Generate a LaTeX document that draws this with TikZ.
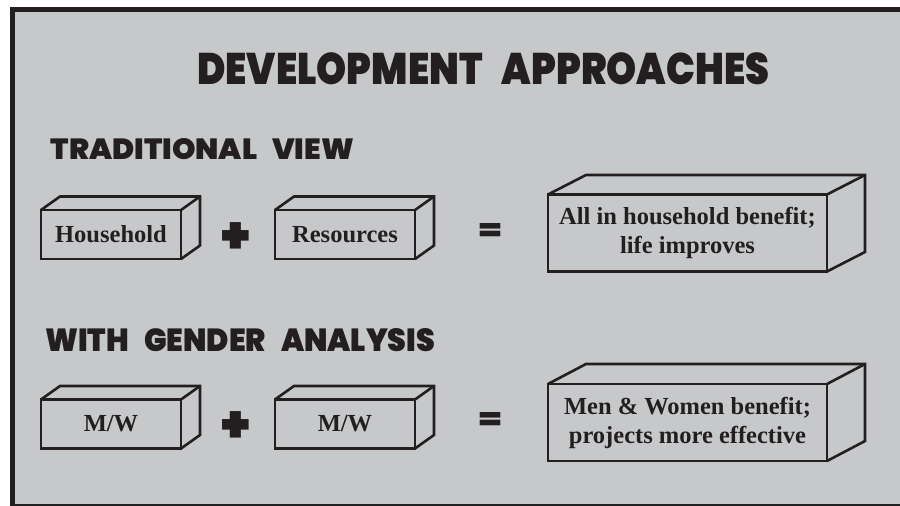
\documentclass[tikz,border=0pt]{standalone}
\usepackage{fontspec}
\usepackage{graphicx}
\setmainfont{Liberation Serif}
\IfFontExistsTF{Poppins Black}{\newfontfamily\heavy{Poppins Black}}{%
  \IfFontExistsTF{Poppins ExtraBold}{\newfontfamily\heavy{Poppins ExtraBold}}{%
    \newfontfamily\heavyx{Poppins}\def\heavy{\heavyx\bfseries}}}
\usetikzlibrary{calc}
\definecolor{panel}{HTML}{C7C8CA}
\definecolor{ink}{HTML}{231F20}
\newcommand\cuboid[3]{%
  \draw[boxline] (#1.north west) -- ++(#2,#3) -- ($(#1.north east)+(#2,#3)$)
     -- ($(#1.south east)+(#2,#3)$) -- (#1.south east);
  \draw[boxline] (#1.north east) -- ++(#2,#3);}
\begin{document}
\begin{tikzpicture}[x=1pt,y=-1pt,
  boxline/.style={draw=ink,line width=2.6pt,line join=miter},
  face/.style={rectangle,draw=ink,line width=2.6pt,outer sep=0pt,inner sep=0pt,
     align=center,text=ink,font=\bfseries\fontsize{24.5}{29}\selectfont},
  small/.style={face,minimum width=140pt,minimum height=49pt},
  big/.style={face,minimum width=279pt,minimum height=77pt},
  head/.style={anchor=south west,inner sep=0pt,text=ink},
  op/.style={inner sep=0pt,text=ink,font=\heavy\fontsize{52}{52}\selectfont}]
\useasboundingbox (0,0) rectangle (900,506);
\fill[white] (0,0) rectangle (900,506);
\fill[panel] (12.5,9.5) rectangle (900,505);
\draw[ink,line width=5pt] (12.5,506) -- (12.5,9.5) -- (900,9.5);
\draw[ink,line width=2pt] (12.5,505) -- (900,505);

\node[head] (title) at (197,85.2) {\resizebox{572pt}{31.8pt}{\heavy DEVELOPMENT\hspace{0.5em}APPROACHES}};
\node[head] (trad) at (50.7,160) {\resizebox{303pt}{21pt}{\heavy TRADITIONAL\hspace{0.5em}VIEW}};
\node[head] (gend) at (45,351.7) {\resizebox{390pt}{23pt}{\heavy WITH\hspace{0.5em}GENDER\hspace{0.5em}ANALYSIS}};

% row 1
\node[small] (hh) at (111,234.5) {Household};
\node[small] (res) at (345,234.5) {Resources};
\node[big] (all) at (687.5,233) {All in household benefit;\\life improves};
\cuboid{hh}{19}{-13.5}
\cuboid{res}{19}{-13.5}
\cuboid{all}{38}{-19.5}
\node[op] (plus1) at (236,238) {+};
\node[op] (eq1) at (490,231) {\resizebox{22pt}{16pt}{\heavy =}};

% row 2
\node[small] (mw1) at (111,424) {M/W};
\node[small] (mw2) at (345,424) {M/W};
\node[big] (men) at (687.5,422.5) {Men \& Women benefit;\\projects more effective};
\cuboid{mw1}{19}{-13.5}
\cuboid{mw2}{19}{-13.5}
\cuboid{men}{38}{-20}
\node[op] (plus2) at (236,427) {+};
\node[op] (eq2) at (490,420) {\resizebox{22pt}{16pt}{\heavy =}};
\end{tikzpicture}
\end{document}
